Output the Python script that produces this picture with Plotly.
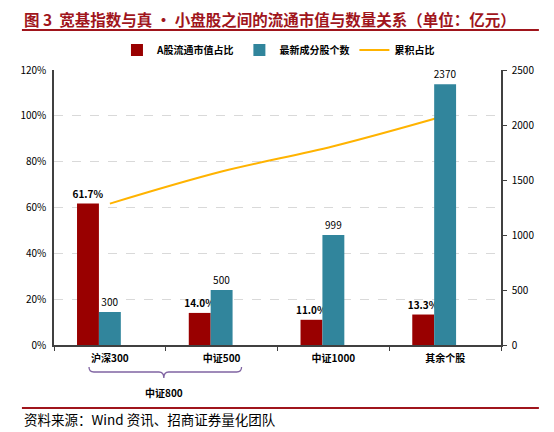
import plotly.graph_objects as go

categories = ['沪深300', '中证500', '中证1000', '其余个股']
share = [0.617, 0.140, 0.110, 0.133]
counts = [300, 500, 999, 2370]
cumshare = [0.617, 0.757, 0.867, 1.000]

# the page puts the figure 8px in from the top-left corner
OFF = 8
W, H = 554 - OFF, 432 - OFF
L, R, T, B = 41, 501, 70, 345   # plot area in reference pixels

def px(x):
    return (x - L) / (R - L)

def py(y):
    return (B - y) / (B - T)

font = 'Noto Sans CJK SC'
red = '#990000'
teal = '#31859C'
gold = '#FFB300'
title_red = '#A0151C'

fig = go.Figure()
fig.add_trace(go.Bar(
    x=categories, y=share, name='A股流通市值占比',
    marker=dict(color=red, line=dict(width=0)),
    offset=-0.294, width=0.196,
    text=share, texttemplate='%{y:.1%}', textposition='outside', constraintext='none',
    textfont=dict(size=10, color='#000000', family=font, weight='bold'),
    cliponaxis=False, yaxis='y'))
fig.add_trace(go.Bar(
    x=categories, y=counts, name='最新成分股个数',
    marker=dict(color=teal, line=dict(width=0)),
    offset=-0.098, width=0.196,
    text=counts, texttemplate='%{y}', textposition='outside', constraintext='none',
    textfont=dict(size=10, color='#000000', family=font),
    cliponaxis=False, yaxis='y2'))
fig.add_trace(go.Scatter(
    x=categories, y=cumshare, name='累积占比', mode='lines',
    line=dict(color=gold, width=2, shape='spline'), yaxis='y'))

# bracket under 沪深300 / 中证500
x0, x1, xm = 77, 234, 154
yt, yb, yn = 367, 372, 378
pts = [('M', x0, yt), ('Q', x0, yb, x0 + 5, yb), ('L', xm - 5, yb),
       ('Q', xm, yb, xm, yn), ('Q', xm, yb, xm + 5, yb), ('L', x1 - 5, yb),
       ('Q', x1, yb, x1, yt)]
path = ''
for p in pts:
    c = p[0]
    coords = p[1:]
    s = ' '.join('%.4f,%.4f' % (px(coords[i]), py(coords[i + 1])) for i in range(0, len(coords), 2))
    path += c + ' ' + s + ' '

shapes = [
    dict(type='path', path=path.strip(), xref='paper', yref='paper',
         line=dict(color='#8064A2', width=1.3)),
    dict(type='line', xref='paper', yref='paper', x0=px(8), x1=px(540), y0=py(30), y1=py(30),
         line=dict(color=title_red, width=2)),
    dict(type='line', xref='paper', yref='paper', x0=px(8), x1=px(540), y0=py(408), y1=py(408),
         line=dict(color=title_red, width=2)),
]

annotations = [
    dict(text='图 3  宽基指数与真 • 小盘股之间的流通市值与数量关系（单位：亿元）',
         xref='paper', yref='paper', x=px(8), y=py(19), xanchor='left', yanchor='middle',
         showarrow=False, font=dict(size=15.5, color=title_red, family=font, weight='bold')),
    dict(text='中证800', xref='paper', yref='paper', x=px(154), y=py(392),
         xanchor='center', yanchor='middle', showarrow=False,
         font=dict(size=10, color='#000000', family=font, weight='bold')),
    dict(text='资料来源：Wind 资讯、招商证券量化团队',
         xref='paper', yref='paper', x=px(8), y=py(419), xanchor='left', yanchor='middle',
         showarrow=False, font=dict(size=13.5, color='#000000', family=font)),
]

fig.update_layout(
    width=W, height=H,
    margin=dict(l=L - OFF, r=554 - R, t=T - OFF, b=432 - B),
    paper_bgcolor='white', plot_bgcolor='white',
    font=dict(family=font, size=10, color='#000000'),
    barmode='group',
    showlegend=True,
    legend=dict(orientation='h', x=px(272), y=py(50), xanchor='center', yanchor='middle',
                font=dict(size=10, family=font, weight='bold'), itemwidth=30,
                traceorder='normal'),
    xaxis=dict(showline=True, linecolor='#404040', linewidth=1.5, ticks='outside',
               tickson='boundaries', ticklen=4, tickcolor='#404040', ticklabelstandoff=3,
               tickfont=dict(size=10, family=font, weight='bold'), showgrid=False),
    yaxis=dict(range=[0, 1.2], dtick=0.2, tickformat='.0%', showline=True,
               linecolor='#404040', linewidth=1.5, ticks='', ticklabelstandoff=4,
               showgrid=True, gridcolor='#D9D9D9', griddash='dash', gridwidth=1,
               tickfont=dict(size=10, family=font), zeroline=False),
    yaxis2=dict(range=[0, 2500], dtick=500, overlaying='y', side='right',
                showline=True, linecolor='#404040', linewidth=1.5, ticks='outside',
                ticklen=4, tickcolor='#404040', showgrid=False, zeroline=False,
                ticklabelstandoff=3, tickfont=dict(size=10, family=font)),
    shapes=shapes,
    annotations=annotations,
)

fig.write_html('out.html')
